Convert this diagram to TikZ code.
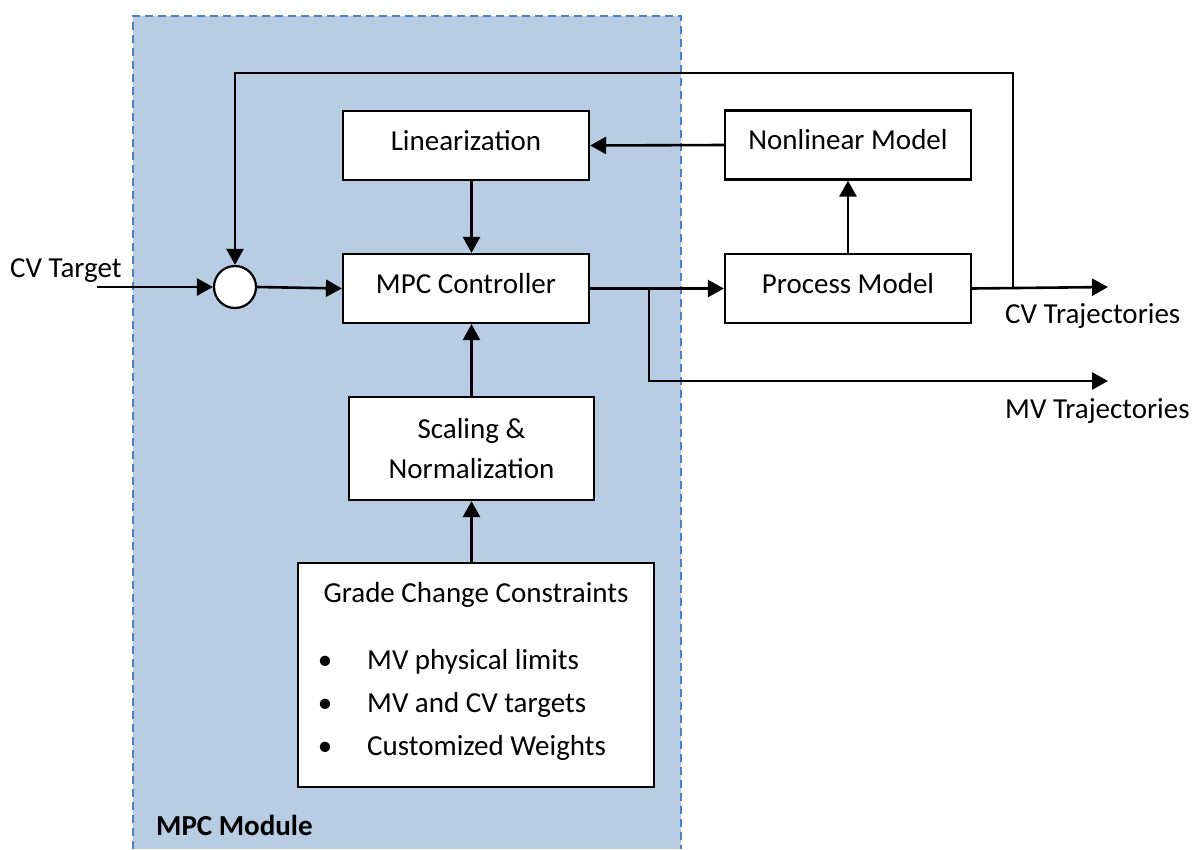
\documentclass[tikz,border=0pt]{standalone}
\usepackage{fontspec}
\setmainfont{Carlito}
\usetikzlibrary{arrows.meta,calc}
\definecolor{modfill}{HTML}{B8CCE4}
\definecolor{modline}{HTML}{4F81BD}
\tikzset{
	blk/.style={draw, fill=white, line width=2.2pt,
		minimum width=246pt, minimum height=69pt},
	tb/.style={text height=18pt, text depth=9pt},
	arr/.style={line width=2.6pt, -{Triangle[length=16pt,width=17pt]}},
	lbl/.style={inner sep=0pt, anchor=base west}
}
\begin{document}
	\begin{tikzpicture}[x=1pt, y=-1pt, font=\fontsize{29}{40}\selectfont]
		\useasboundingbox (0,0) rectangle (1196,849);
		% MPC module
		\fill[modfill] (133,16) rectangle (681,849);
		\draw[modline, line width=1.6pt, dash pattern=on 8pt off 5pt]
			(133,849) -- (133,16) -- (681,16) -- (681,849);
		\node[lbl, font=\fontsize{29}{34}\selectfont\bfseries] (modtxt) at (156,835) {MPC Module};
		
		% blocks
		\node[blk, tb] (lin) at (466,145.5) {Linearization};
		\node[blk, tb] (nlm) at (848,145) {Nonlinear Model};
		\node[blk, tb] (mpc) at (466,288.5) {MPC Controller};
		\node[blk, tb] (proc) at (848,288.5) {Process Model};
		\node[draw, fill=white, circle, line width=2.2pt, minimum size=42pt, inner sep=0pt] (sum) at (235,287) {};
		\node[blk, align=center, minimum width=245pt, minimum height=103pt] (scal) at (471.5,448.5) {Scaling \&\\Normalization};
		\node[blk, minimum width=356pt, minimum height=224pt] (grade) at (476,675) {};
		\node[anchor=base, inner sep=0pt] (gtitle) at (476,602) {Grade Change Constraints};
		\foreach \txt [count=\i] in {MV physical limits, MV and CV targets, Customized Weights}{
			\node[anchor=base, inner sep=0pt] (gb\i) at (325,{626+43*\i}) {\textbullet};
			\node[lbl] (gi\i) at (367,{626+43*\i}) {\txt};
		}
		
		% in and out
		\node[lbl] (cvtxt) at (10,277) {CV Target};
		\node[lbl] (cvtraj) at (1005,323) {CV Trajectories};
		\node[lbl] (mvtraj) at (1005,418) {MV Trajectories};
		\coordinate (cvin) at (97,287);
		\coordinate (cvout) at (1108,287);
		\coordinate (mvout) at (1108,381);
		\coordinate (br) at (649,287);
		\coordinate (fb) at (1013,287);
		\coordinate (fbtop) at (1013,73);
		
		% connectors
		\draw[arr] (cvin) -- (sum.west);
		\draw[arr] (sum.east) -- (mpc.west);
		\draw[arr] (mpc.east) -- (proc.west);
		\draw[arr] (br) |- (mvout);
		\draw[arr] (proc.east) -- (cvout);
		\draw[arr] (fb) -- (fbtop) -| (sum.north);
		\draw[arr] (proc.north) -- (nlm.south);
		\draw[arr] (nlm.west) -- (lin.east);
		\draw[arr] (lin.south -| scal.north) -- (mpc.north -| scal.north);
		\draw[arr] (scal.north) -- (scal.north |- mpc.south);
		\draw[arr] (grade.north -| scal.north) -- (scal.south);
	\end{tikzpicture}
\end{document}
